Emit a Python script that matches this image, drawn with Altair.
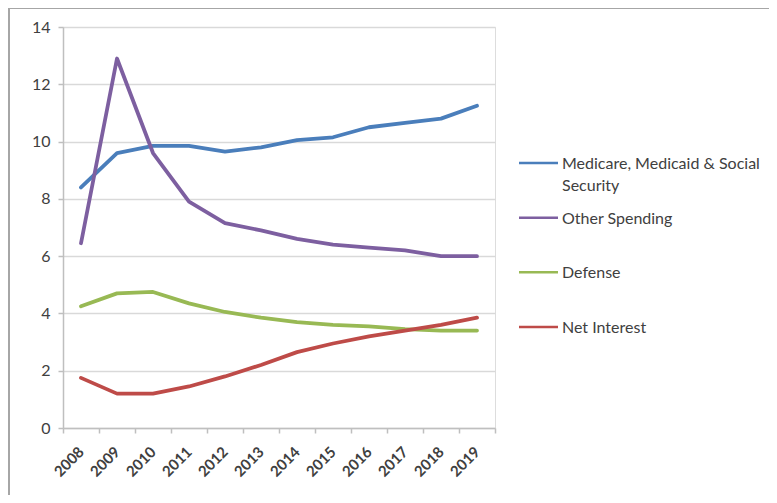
import altair as alt
import pandas as pd

years = ["2008", "2009", "2010", "2011", "2012", "2013", "2014", "2015", "2016", "2017", "2018", "2019"]
medicare = [8.4, 9.6, 9.85, 9.85, 9.65, 9.8, 10.05, 10.15, 10.5, 10.65, 10.8, 11.25]
other = [6.45, 12.9, 9.6, 7.9, 7.15, 6.9, 6.6, 6.4, 6.3, 6.2, 6.0, 6.0]
defense = [4.25, 4.7, 4.75, 4.35, 4.05, 3.85, 3.7, 3.6, 3.55, 3.45, 3.4, 3.4]
net_interest = [1.75, 1.2, 1.2, 1.45, 1.8, 2.2, 2.65, 2.95, 3.2, 3.4, 3.6, 3.85]

series_names = ["Medicare, Medicaid & Social Security", "Other Spending", "Defense", "Net Interest"]
legend_labels = ["Medicare, Medicaid & Social\nSecurity", "Other Spending", "Defense", "Net Interest"]
series_colors = ["#4A7EBB", "#7D5FA0", "#98B954", "#BE4B48"]
series_values = [medicare, other, defense, net_interest]

rows = []
for name, vals in zip(series_names, series_values):
    for y, v in zip(years, vals):
        rows.append({"year": y, "value": v, "series": name})
df = pd.DataFrame(rows)
legend_df = pd.DataFrame({"series": series_names, "label": legend_labels})

FONT = "Lato"
TXT = "#404040"
color_scale = alt.Scale(domain=series_names, range=series_colors)

lines = alt.Chart(df).mark_line(strokeWidth=3.8, interpolate="linear", strokeJoin="round", strokeCap="round").encode(
    x=alt.X("year:O", sort=years, title=None,
            scale=alt.Scale(paddingInner=0, paddingOuter=0),
            axis=alt.Axis(labelAngle=315, labelAlign="right", labelBaseline="middle",
                          tickBand="extent", tickSize=5, tickColor="#BFBFBF", domainColor="#BFBFBF",
                          domainWidth=1.5, tickWidth=1.5,
                          labelFont=FONT, labelFontSize=15, labelColor=TXT, labelPadding=16,
                          grid=False, labelFontWeight="bold")),
    y=alt.Y("value:Q", title=None,
            scale=alt.Scale(domain=[0, 14], nice=False),
            axis=alt.Axis(values=[0, 2, 4, 6, 8, 10, 12, 14], tickSize=5, tickColor="#BFBFBF",
                          domainColor="#BFBFBF", domainWidth=1.5, tickWidth=1.5,
                          gridColor="#D9D9D9", gridWidth=1.5,
                          labelFont=FONT, labelFontSize=16, labelColor=TXT, labelPadding=8)),
    color=alt.Color("series:N", scale=color_scale, legend=None),
)

leg_y = alt.Y("series:N", sort=series_names, axis=None,
              scale=alt.Scale(type="point", domain=series_names, range=[136, 300], padding=0))

leg_rules = alt.Chart(legend_df).mark_rule(strokeWidth=2.5).encode(
    x=alt.value(456), x2=alt.value(495), y=leg_y,
    color=alt.Color("series:N", scale=color_scale, legend=None),
)
leg_text = alt.Chart(legend_df).mark_text(
    align="left", baseline="alphabetic", dy=6, lineBreak="\n", lineHeight=22,
    font=FONT, fontSize=16, color=TXT,
).encode(x=alt.value(499), y=leg_y, text="label:N")

frame = alt.Chart(pd.DataFrame({"k": [0]})).mark_rect(fill=None, stroke="#A6A6A6", strokeWidth=2).encode(
    x=alt.value(-54), x2=alt.value(720), y=alt.value(-19), y2=alt.value(490)
)

chart = alt.layer(frame, lines, leg_rules, leg_text).resolve_scale(y="independent").properties(
    width=432, height=401,
    autosize=alt.AutoSizeParams(type="none"),
    padding={"left": 55, "top": 19, "right": 274, "bottom": 67},
).configure_view(stroke=None).configure(background="white")

chart.save("out.html", embed_options={"renderer": "svg", "actions": False})
